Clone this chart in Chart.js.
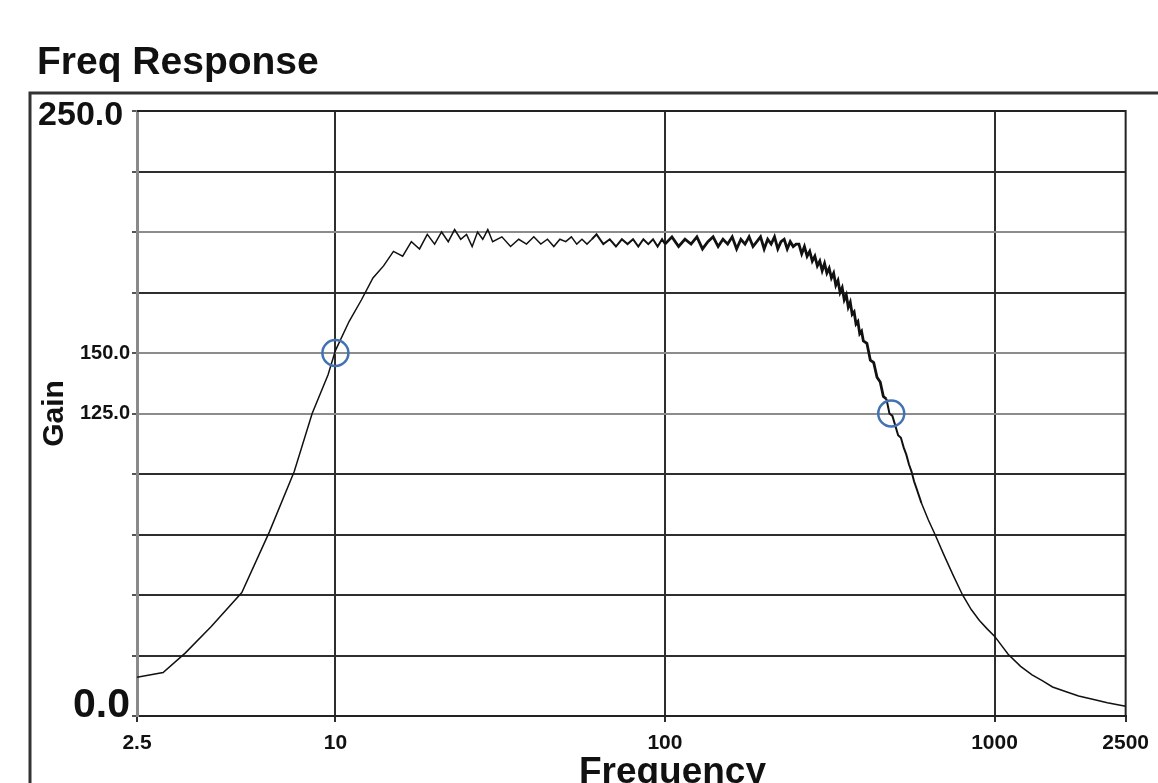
<!DOCTYPE html>
<html>
<head>
<meta charset="utf-8">
<title>Freq Response</title>
<script src="https://cdn.jsdelivr.net/npm/chart.js@4"></script>
<style>
  html, body { margin: 0; padding: 0; background: #fff; }
</style>
</head>
<body>
<canvas id="freqChart" width="1158" height="783"></canvas>
<script>
const FONT = "'Liberation Sans', Arial, sans-serif";

// measured response (Hz -> gain)
const freq = [
  2.5, 3.0, 3.5, 4.2, 5.2, 6.3, 7.5, 8.5, 9.5, 10,
  11, 12, 13, 14, 15, 16, 17, 18, 19, 20, 21, 22, 23, 24, 25, 26, 27, 28, 29, 30,
  32, 34, 36, 38, 40, 42, 44, 46, 48, 50, 52, 54, 56, 58, 60,
  62, 65, 68, 71, 74, 77, 80, 83, 86, 89, 92, 95, 98, 100,
  105, 110, 115, 120, 125, 130, 135, 140, 145, 150, 155, 160, 165, 170, 175,
  180, 185, 190, 195, 200, 205, 210, 215, 220, 225, 230, 235, 240, 245, 250,
  255, 260, 265, 270, 275, 280, 285, 290, 295, 300, 305, 310, 315, 320, 325,
  330, 335, 340, 345, 350, 355, 360, 365, 370, 375, 380, 385, 390, 395, 400,
  410, 420, 430, 440, 450, 460, 470, 480, 490, 500,
  510, 520, 530, 540, 550, 560, 570, 580, 590, 600,
  630, 660, 700, 750, 800, 850, 900, 950, 1000, 1100,
  1200, 1300, 1400, 1500, 1650, 1800, 2000, 2200, 2500
];
const gain = [
  16, 18, 26, 37, 51, 76, 101, 125, 141, 151,
  163, 172, 181, 186, 192, 190, 196, 193, 199, 195, 200, 196, 201, 197, 199, 194, 200, 197, 201, 196,
  198, 194, 197, 195, 198, 195, 197, 194, 197, 196, 198, 195, 197, 195, 197,
  199, 195, 197, 194, 197, 195, 197, 194, 197, 195, 197, 194, 197, 195,
  198, 194, 197, 195, 198, 193, 196, 198, 194, 197, 195, 198, 193, 197, 195,
  198, 194, 196, 198, 193, 197, 195, 198, 193, 196, 197, 193, 196, 194, 195,
  195, 191, 194, 190, 192, 188, 190, 186, 188, 184, 187, 183, 185, 181, 183,
  178, 180, 175, 177, 172, 174, 169, 171, 166, 167, 162, 163, 158, 159, 155,
  154, 147, 146, 140, 138, 132, 131, 125, 124, 120,
  116, 115, 111, 108, 104, 101, 97, 94, 91, 88,
  81, 75, 67, 58, 50, 44, 39.5, 36, 33, 25.5,
  20.5, 17, 14.5, 12, 10, 8.3, 6.8, 5.5, 4
];

// the two circled points
const markerFreq = [10, 486];
const markerGain = [150, 125];

const xTickValues = [2.5, 10, 100, 1000, 2500];
const xGridValues = [10, 100, 1000];
const yLabelValues = [0, 125, 150, 250];
const yLightGrid = [200, 150, 125];

const frame = {
  id: "frame",
  beforeDraw(chart) {
    const { ctx, width, height } = chart;
    ctx.save();
    ctx.fillStyle = "#fff";
    ctx.fillRect(0, 0, width, height);
    ctx.strokeStyle = "#333";
    ctx.lineWidth = 3;
    ctx.beginPath();
    ctx.moveTo(30, height);
    ctx.lineTo(30, 93);
    ctx.lineTo(width, 93);
    ctx.stroke();
    ctx.restore();
  },
  beforeDatasetsDraw(chart) {
    const { ctx, chartArea: a } = chart;
    ctx.save();
    ctx.strokeStyle = "#222";
    ctx.lineWidth = 2;
    ctx.beginPath();
    ctx.moveTo(a.left, a.top);
    ctx.lineTo(a.right, a.top);
    ctx.lineTo(a.right, a.bottom);
    ctx.stroke();
    ctx.restore();
  }
};

// the trace looks heavier where the source samples get dense
const traceWidth = (s) => {
  const f = s.p0.parsed.x;
  if (f >= 100 && f < 470) return 2.8;
  if (f >= 60 && f < 600) return 2.0;
  return 1.5;
};

new Chart(document.getElementById("freqChart"), {
  type: "scatter",
  data: {
    datasets: [
      {
        data: markerFreq.map((f, i) => ({ x: f, y: markerGain[i] })),
        pointRadius: 13,
        pointBorderWidth: 2.5,
        pointBorderColor: "#4372b2",
        pointBackgroundColor: "rgba(0,0,0,0)",
        showLine: false
      },
      {
        data: freq.map((f, i) => ({ x: f, y: gain[i] })),
        showLine: true,
        borderColor: "#111",
        borderWidth: 1.5,
        segment: { borderWidth: traceWidth },
        pointRadius: 0,
        tension: 0
      }
    ]
  },
  options: {
    responsive: false,
    animation: false,
    layout: { padding: { left: 37, right: 30, top: 0, bottom: 0 } },
    plugins: {
      legend: { display: false },
      tooltip: { enabled: false },
      title: {
        display: true,
        text: "Freq Response",
        align: "start",
        color: "#111",
        font: { family: FONT, size: 39, weight: "bold", lineHeight: 1 },
        padding: { top: 44, bottom: 28 }
      }
    },
    scales: {
      x: {
        type: "logarithmic",
        min: 2.5,
        max: 2500,
        afterBuildTicks: (scale) => {
          scale.ticks = xTickValues.map((v) => ({ value: v }));
        },
        afterFit: (scale) => { scale.height = 67; },
        border: { color: "#222", width: 2 },
        grid: {
          color: (c) => (c.tick && xGridValues.includes(c.tick.value) ? "#2e2e2e" : "rgba(0,0,0,0)"),
          tickColor: "#2e2e2e",
          lineWidth: 2,
          tickLength: 6
        },
        ticks: {
          autoSkip: false,
          maxRotation: 0,
          padding: 9,
          color: "#111",
          font: { family: FONT, size: 21, weight: "bold" },
          callback: (v) => String(v)
        },
        title: {
          display: true,
          // leading pad moves the title right, as in the source
          text: "        Frequency",
          color: "#111",
          font: { family: FONT, size: 37, weight: "bold", lineHeight: 0.5 },
          padding: { top: 0, bottom: 1 }
        }
      },
      y: {
        min: 0,
        max: 250,
        afterFit: (scale) => { scale.width = 100; },
        border: { color: "#8a8a8a", width: 3 },
        grid: {
          color: (c) => (c.tick && yLightGrid.includes(c.tick.value) ? "#8c8c8c" : "#2e2e2e"),
          tickColor: "#555",
          lineWidth: 2,
          tickLength: 5
        },
        ticks: {
          stepSize: 25,
          padding: 2,
          color: "#111",
          font: (c) => {
            const v = c.tick ? c.tick.value : null;
            if (v === 0) return { family: FONT, size: 41, weight: "bold", lineHeight: 0.49 };
            if (v === 250) return { family: FONT, size: 34, weight: "bold", lineHeight: 0.3 };
            return { family: FONT, size: 20, weight: "bold" };
          },
          callback: (v) => {
            if (!yLabelValues.includes(v)) return "";
            const txt = v.toFixed(1);
            if (v === 0) return [txt, ""];             // sits a bit above the axis
            if (v === 250) return ["", txt + "\u2009"]; // sits a bit below the frame
            return txt;
          }
        },
        title: {
          display: true,
          text: "Gain",
          color: "#111",
          font: { family: FONT, size: 30, weight: "bold" },
          padding: { top: 0, bottom: 0 }
        }
      }
    }
  },
  plugins: [frame]
});
</script>
</body>
</html>
